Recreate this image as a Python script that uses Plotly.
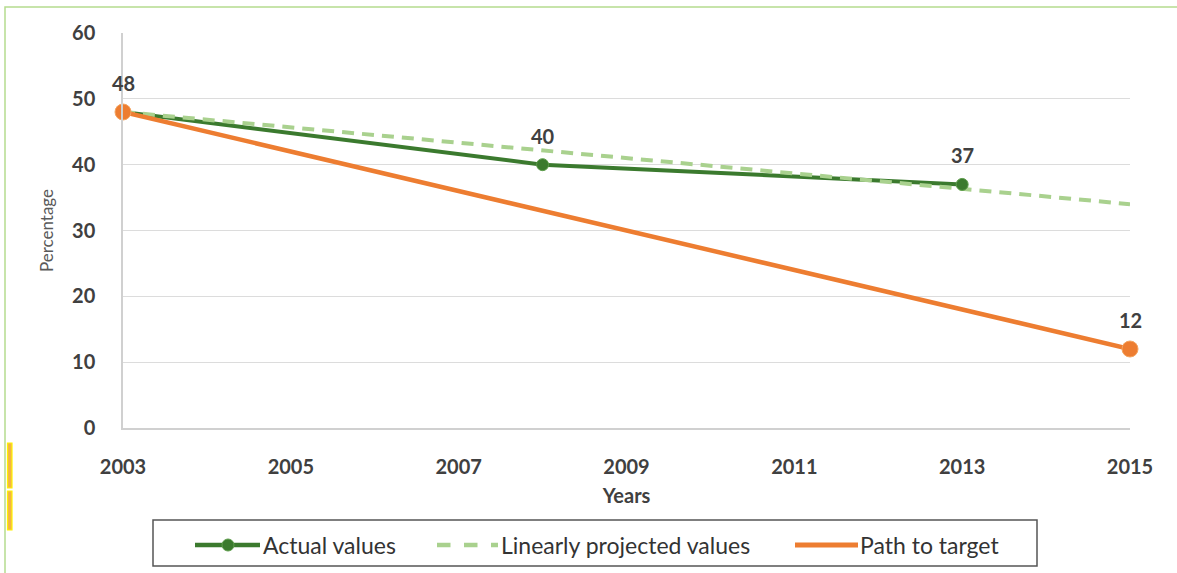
import plotly.graph_objects as go

actual_years = [2003, 2008, 2013]
actual_values = [48, 40, 37]
projected_years = [2003, 2015]
projected_values = [48, 34]
target_years = [2003, 2015]
target_values = [48, 12]
label_years = [2003, 2008, 2013, 2015]
label_values = [48, 40, 37, 12]
x_ticks = [2003, 2005, 2007, 2009, 2011, 2013, 2015]
y_ticks = [0, 10, 20, 30, 40, 50, 60]
legend_names = ["Actual values", "Linearly projected values", "Path to target"]

DARK_GREEN = "#3B7A2E"
LIGHT_GREEN = "#A9D18E"
ORANGE = "#ED7D31"
TXT = "#404040"
FONT = "Lato"

W, H = 1177, 573
L, R, T, B = 123, 47, 33, 145
PW, PH = W - L - R, H - T - B


def px(x):
    return (x - L) / PW


def py(y):
    return (H - B - y) / PH


fig = go.Figure()
fig.add_trace(go.Scatter(
    x=actual_years, y=actual_values, mode="lines",
    line=dict(color=DARK_GREEN, width=4),
    name=legend_names[0], cliponaxis=False, showlegend=False))
fig.add_trace(go.Scatter(
    x=projected_years, y=projected_values, mode="lines",
    line=dict(color=LIGHT_GREEN, width=4, dash="12px,8px"),
    name=legend_names[1], cliponaxis=False, showlegend=False))
fig.add_trace(go.Scatter(
    x=target_years, y=target_values, mode="lines",
    line=dict(color=ORANGE, width=4.5),
    name=legend_names[2], cliponaxis=False, showlegend=False))
fig.add_trace(go.Scatter(
    x=actual_years, y=actual_values, mode="markers",
    marker=dict(color=DARK_GREEN, size=12, line=dict(color="#5E9E4C", width=1)),
    showlegend=False, cliponaxis=False, hoverinfo="skip"))
fig.add_trace(go.Scatter(
    x=target_years, y=target_values, mode="markers",
    marker=dict(color=ORANGE, size=16, line=dict(color="#F4A460", width=1)),
    showlegend=False, cliponaxis=False, hoverinfo="skip"))

annotations = []
for xv, yv in zip(label_years, label_values):
    annotations.append(dict(
        x=xv, y=yv, xref="x", yref="y", text=str(yv), showarrow=False,
        yshift=29, xanchor="center", yanchor="middle",
        font=dict(family=FONT, size=20, color=TXT, weight="bold")))

# legend (drawn as a boxed key below the chart)
LEG_Y = 545
legend_items = [
    dict(x0=195, x1=260, text_x=261, color=DARK_GREEN, dash="solid", marker=True, width=4.5),
    dict(x0=437, x1=498, text_x=499, color=LIGHT_GREEN, dash="dash", marker=False, width=4.5),
    dict(x0=795, x1=858, text_x=858, color=ORANGE, dash="solid", marker=False, width=5),
]

shapes = [
    dict(type="rect", xref="paper", yref="paper",
         x0=px(5), x1=px(1190), y0=py(7), y1=py(590),
         line=dict(color="#B5DC8F", width=1.5), fillcolor="rgba(0,0,0,0)", layer="below"),
    dict(type="rect", xref="paper", yref="paper",
         x0=px(7.5), x1=px(12), y0=py(443), y1=py(488),
         line=dict(color="#FFF200", width=1.2), fillcolor="#F2B544"),
    dict(type="rect", xref="paper", yref="paper",
         x0=px(7.5), x1=px(12), y0=py(491), y1=py(530),
         line=dict(color="#FFF200", width=1.2), fillcolor="#F2B544"),
    dict(type="rect", xref="paper", yref="paper",
         x0=px(153), x1=px(1037), y0=py(520), y1=py(566),
         line=dict(color="#555555", width=1.5), fillcolor="rgba(0,0,0,0)"),
]
for item, name in zip(legend_items, legend_names):
    shapes.append(dict(type="line", xref="paper", yref="paper",
                       x0=px(item["x0"]), x1=px(item["x1"]), y0=py(LEG_Y), y1=py(LEG_Y),
                       line=dict(color=item["color"], width=item["width"], dash=item["dash"])))
    if item["marker"]:
        cx = (item["x0"] + item["x1"]) / 2 + 0.5
        shapes.append(dict(type="circle", xref="paper", yref="paper",
                           x0=px(cx - 6), x1=px(cx + 6), y0=py(LEG_Y - 6), y1=py(LEG_Y + 6),
                           line=dict(color="#5E9E4C", width=1), fillcolor=DARK_GREEN))
    annotations.append(dict(
        x=px(item["text_x"]), y=py(LEG_Y), xref="paper", yref="paper",
        text=name, showarrow=False, xanchor="left", yanchor="middle",
        font=dict(family=FONT, size=23, color="#333333")))

fig.update_layout(
    width=W, height=H,
    margin=dict(l=L, r=R, t=T, b=B),
    paper_bgcolor="white", plot_bgcolor="white",
    font=dict(family=FONT, color=TXT),
    shapes=shapes,
    annotations=annotations,
    showlegend=False,
    xaxis=dict(
        range=[2003, 2015], tickvals=x_ticks, ticktext=[str(v) for v in x_ticks],
        showgrid=False, showline=True, linecolor="#D0D0D0", linewidth=1.5,
        zeroline=False, ticks="", ticklabelstandoff=20,
        tickfont=dict(family=FONT, size=20, color=TXT, weight="bold"),
        title=dict(text="Years", font=dict(family=FONT, size=20, color=TXT, weight="bold"), standoff=12),
    ),
    yaxis=dict(
        range=[0, 60], tickvals=y_ticks,
        showgrid=True, gridcolor="#DCDCDC", gridwidth=1.2,
        showline=True, linecolor="#D0D0D0", linewidth=1.5,
        zeroline=False, ticks="", ticklabelstandoff=22,
        tickfont=dict(family=FONT, size=20, color=TXT, weight="bold"),
        title=dict(text="Percentage", font=dict(family=FONT, size=17, color="#595959"), standoff=14),
    ),
)

fig.write_html(
    "out.html",
    config={"displayModeBar": False},
    post_script="document.body.style.margin='0px';document.body.style.overflow='hidden';",
)
